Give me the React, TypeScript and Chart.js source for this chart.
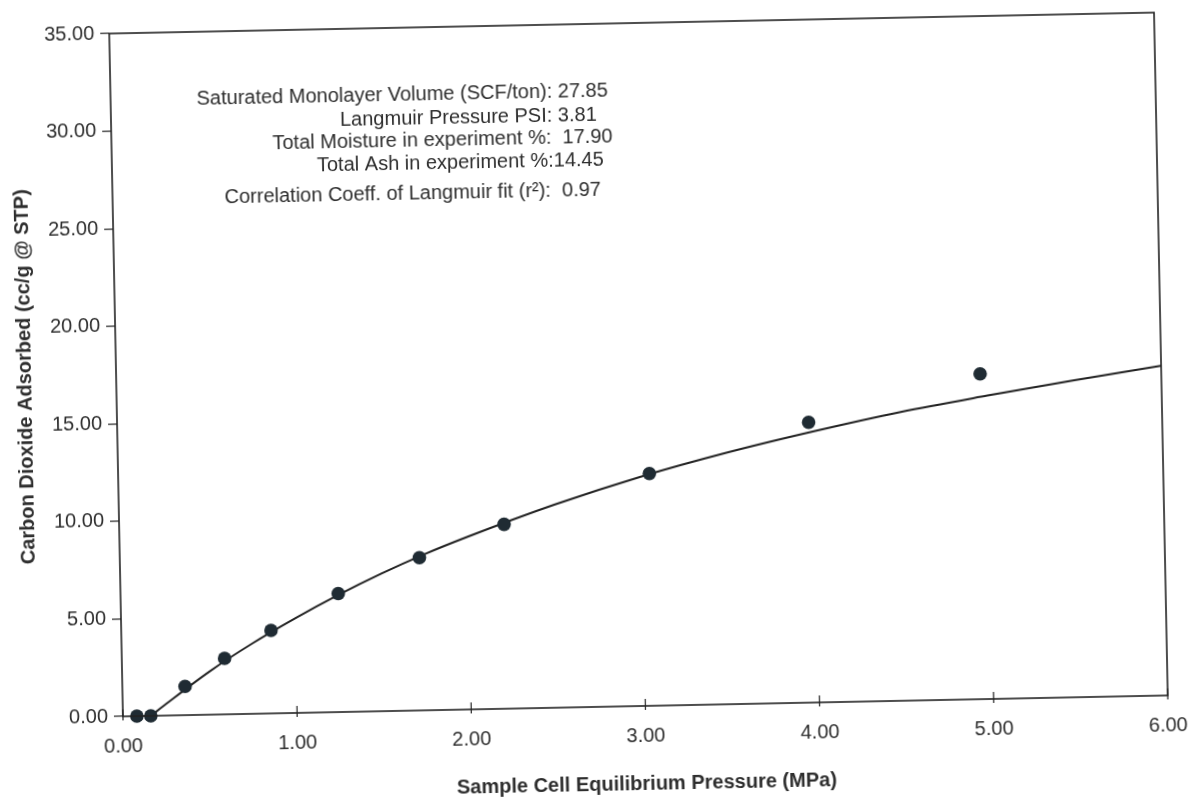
import React, { useEffect, useRef } from "react";
import { Chart, registerables } from "chart.js";

Chart.register(...registerables);

// Measured isotherm points (MPa, cc/g @ STP)
const measuredPressure = [0.08, 0.16, 0.36, 0.59, 0.86, 1.25, 1.72, 2.21, 3.05, 3.97, 4.96];
const measuredVolume = [0.0, 0.0, 1.47, 2.87, 4.25, 6.07, 7.83, 9.45, 11.9, 14.36, 16.67];

// Langmuir fit curve
const fitPressure = [0.16, 0.25, 0.5, 0.75, 1.0, 1.25, 1.5, 1.75, 2.0, 2.5, 3.0, 3.5, 4.0, 4.5, 5.0, 5.5, 6.0];
const fitVolume = [0, 0.6, 2.2, 3.6, 4.85, 6.0, 7.05, 8.0, 8.85, 10.4, 11.75, 12.9, 13.9, 14.8, 15.55, 16.25, 16.9];

// Axis ticks
const xTicks = [0, 1, 2, 3, 4, 5, 6];
const yTicks = [0, 5, 10, 15, 20, 25, 30, 35];

const xTitle = "Sample Cell Equilibrium Pressure (MPa)";
const yTitle = "Carbon Dioxide Adsorbed (cc/g @ STP)";

const annotationLines = [
  "Saturated Monolayer Volume (SCF/ton): 27.85",
  "Langmuir Pressure PSI: 3.81",
  "Total Moisture in experiment %:  17.90",
  "Total Ash in experiment %:14.45",
  "Correlation Coeff. of Langmuir fit (r²):  0.97",
];

const FONT = "'Liberation Sans', Arial, sans-serif";
const TEXT = "#2e2e2e";
const INK = "#222";

export default function App() {
  const ref = useRef<HTMLCanvasElement | null>(null);

  useEffect(() => {
    if (!ref.current) return;
    const annPos = [
      [202, 90],
      [345, 114],
      [277, 136],
      [321, 159],
      [228, 189],
    ];
    const framePlugin = {
      id: "frame",
      afterDatasetsDraw(chart: any) {
        const { ctx, chartArea } = chart;
        const xs = chart.scales.x;
        ctx.save();
        ctx.strokeStyle = INK;
        ctx.lineWidth = 1.6;
        ctx.strokeRect(chartArea.left, chartArea.top, chartArea.right - chartArea.left, chartArea.bottom - chartArea.top);
        ctx.lineWidth = 1.2;
        xTicks.forEach((v) => {
          const px = xs.getPixelForValue(v);
          ctx.beginPath();
          ctx.moveTo(px, chartArea.bottom - 7);
          ctx.lineTo(px, chartArea.bottom + 4);
          ctx.stroke();
        });
        ctx.fillStyle = TEXT;
        ctx.font = `20px ${FONT}`;
        ctx.textBaseline = "middle";
        ctx.textAlign = "left";
        annotationLines.forEach((t, i) => {
          ctx.fillText(t, annPos[i][0], annPos[i][1]);
        });
        ctx.restore();
      },
    };

    const chart = new Chart(ref.current, {
      type: "scatter",
      data: {
        datasets: [
          {
            type: "line",
            label: "Langmuir fit",
            data: fitPressure.map((x, i) => ({ x, y: fitVolume[i] })),
            borderColor: INK,
            borderWidth: 2,
            pointRadius: 0,
            cubicInterpolationMode: "monotone",
            fill: false,
            order: 2,
          },
          {
            type: "scatter",
            label: "Measured",
            data: measuredPressure.map((x, i) => ({ x, y: measuredVolume[i] })),
            backgroundColor: "#1f2b33",
            borderColor: "#1f2b33",
            borderWidth: 0,
            pointRadius: 6.8,
            clip: false,
            order: 1,
          },
        ],
      } as any,
      options: {
        animation: false,
        responsive: false,
        maintainAspectRatio: false,
        layout: { padding: { left: 0, top: 23, right: 31, bottom: 0 } },
        plugins: { legend: { display: false }, tooltip: { enabled: false } },
        scales: {
          x: {
            type: "linear",
            min: 0,
            max: 6,
            afterFit: (s: any) => {
              s.height = 95;
              s.paddingLeft = 0;
              s.paddingRight = 0;
            },
            afterBuildTicks: (s: any) => {
              s.ticks = xTicks.map((v) => ({ value: v }));
            },
            ticks: {
              padding: 18,
              color: TEXT,
              font: { family: FONT, size: 20 },
              callback: (v: any) => Number(v).toFixed(2),
              maxRotation: 0,
            },
            grid: { display: false, drawTicks: false },
            border: { display: false },
            title: {
              display: true,
              text: xTitle,
              color: TEXT,
              font: { family: FONT, size: 20, weight: "bold" },
              padding: { top: 0, bottom: 5 },
            },
          },
          y: {
            type: "linear",
            min: 0,
            max: 35,
            afterFit: (s: any) => {
              s.width = 116;
              s.paddingTop = 0;
              s.paddingBottom = 0;
            },
            afterBuildTicks: (s: any) => {
              s.ticks = yTicks.map((v) => ({ value: v }));
            },
            ticks: {
              padding: 6,
              color: TEXT,
              font: { family: FONT, size: 20 },
              callback: (v: any) => Number(v).toFixed(2),
            },
            grid: {
              display: true,
              drawOnChartArea: false,
              drawTicks: true,
              tickLength: 9,
              color: INK,
              lineWidth: 1.2,
            },
            border: { display: false },
            title: {
              display: true,
              text: yTitle,
              color: TEXT,
              font: { family: FONT, size: 20, weight: "bold" },
              padding: { top: 13, bottom: 0 },
            },
          },
        },
      },
      plugins: [framePlugin],
    } as any);
    return () => chart.destroy();
  }, []);

  return (
    <div style={{ position: "fixed", left: 0, top: 0, width: 1192, height: 801, overflow: "hidden", background: "#fff" }}>
      <div style={{ width: 1192, height: 801, transform: "rotate(-1.15deg)", transformOrigin: "638px 365px" }}>
        <canvas ref={ref} width={1192} height={801} style={{ width: 1192, height: 801, display: "block" }} />
      </div>
    </div>
  );
}
